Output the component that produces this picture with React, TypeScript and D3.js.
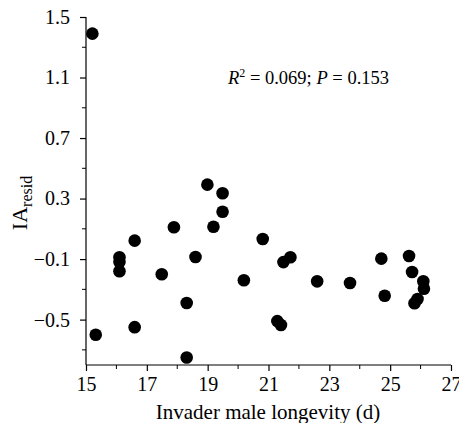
import { useRef, useEffect } from 'react';
import * as d3 from 'd3';

const WIDTH = 459;
const HEIGHT = 423;
const MARGIN = { top: 17, right: 8, bottom: 58, left: 86 };

// invader male longevity (d)
const longevity = [
  15.21, 15.32, 16.1, 16.1, 16.1, 16.6, 16.6, 17.49, 17.89, 18.6,
  18.31, 18.31, 18.99, 19.19, 19.49, 19.49, 20.81, 20.19, 21.49, 21.72,
  21.29, 21.41, 22.6, 23.68, 24.71, 24.82, 25.62, 25.72, 26.09, 26.11,
  25.9, 25.8,
];
// IA residuals
const iaResid = [
  1.39, -0.6, -0.088, -0.12, -0.18, 0.022, -0.55, -0.2, 0.11, -0.086,
  -0.39, -0.75, 0.392, 0.114, 0.335, 0.213, 0.033, -0.24, -0.12, -0.088,
  -0.51, -0.536, -0.247, -0.258, -0.097, -0.342, -0.08, -0.185, -0.247, -0.296,
  -0.364, -0.392,
];

const xTicks = [15, 17, 19, 21, 23, 25, 27];
const xMinor = [16, 18, 20, 22, 24, 26];
const yTicks = [-0.5, -0.1, 0.3, 0.7, 1.1, 1.5];
const yMinor = [-0.7, -0.3, 0.1, 0.5, 0.9, 1.3];

const FONT = '"Liberation Serif", "DejaVu Serif", serif';

const App = () => {
  const ref = useRef<SVGSVGElement>(null);

  useEffect(() => {
    const svg = d3.select(ref.current);
    svg.selectAll('*').remove();

    const x = d3.scaleLinear().domain([15, 27]).range([MARGIN.left, WIDTH - MARGIN.right]);
    const y = d3.scaleLinear().domain([-0.8, 1.5]).range([HEIGHT - MARGIN.bottom, MARGIN.top]);

    svg.append('rect').attr('width', WIDTH).attr('height', HEIGHT).attr('fill', '#fff');

    const x0 = y(-0.8);

    // x axis
    const gx = svg.append('g').attr('transform', `translate(0, ${x0})`);
    gx.call(d3.axisBottom(x).tickValues(xTicks).tickSize(6).tickPadding(6).tickFormat(d3.format('d')));
    gx.call(g => g.select('.domain').attr('d', `M${x(15)},0H${x(27)}`));
    gx.selectAll('.minor')
      .data(xMinor)
      .join('line')
      .attr('x1', d => x(d)).attr('x2', d => x(d))
      .attr('y1', 0).attr('y2', 4)
      .attr('stroke', '#000');

    // y axis
    const gy = svg.append('g').attr('transform', `translate(${MARGIN.left}, 0)`);
    gy.call(d3.axisLeft(y).tickValues(yTicks).tickSize(6).tickPadding(10).tickFormat(d => {
      const v = +d;
      return v < 0 ? '\u2212' + Math.abs(v).toFixed(1) : v.toFixed(1);
    }));
    gy.call(g => g.select('.domain').attr('d', `M0,${y(1.5)}V${y(-0.8)}`));
    gy.selectAll('.minor')
      .data(yMinor)
      .join('line')
      .attr('y1', d => y(d)).attr('y2', d => y(d))
      .attr('x1', 0).attr('x2', -4)
      .attr('stroke', '#000');

    svg.selectAll('.tick text')
      .attr('font-family', FONT)
      .attr('font-size', 20)
      .attr('fill', '#000');
    svg.selectAll('.domain, .tick line').attr('stroke', '#000').attr('stroke-width', 1.2);

    // points
    svg.append('g')
      .selectAll('circle')
      .data(longevity.map((d, i) => [d, iaResid[i]]))
      .join('circle')
      .attr('cx', d => x(d[0]))
      .attr('cy', d => y(d[1]))
      .attr('r', 6.3)
      .attr('fill', '#000');

    // annotation
    const ann = svg.append('text')
      .attr('x', 228)
      .attr('y', 84)
      .attr('font-family', FONT)
      .attr('font-size', 18.5)
      .attr('fill', '#000');
    ann.append('tspan').attr('font-style', 'italic').text('R');
    ann.append('tspan').attr('font-size', 12).attr('dy', -7).text('2');
    ann.append('tspan').attr('dy', 7).text(' = 0.069; ');
    ann.append('tspan').attr('font-style', 'italic').text('P');
    ann.append('tspan').text(' = 0.153');

    // x label
    svg.append('text')
      .attr('x', 268)
      .attr('y', 419)
      .attr('text-anchor', 'middle')
      .attr('font-family', FONT)
      .attr('font-size', 21)
      .attr('fill', '#000')
      .text('Invader male longevity (d)');

    // y label
    const yl = svg.append('text')
      .attr('transform', 'translate(27, 203) rotate(-90)')
      .attr('text-anchor', 'middle')
      .attr('font-family', FONT)
      .attr('font-size', 22)
      .attr('fill', '#000');
    yl.append('tspan').text('IA');
    yl.append('tspan').attr('font-size', 16).attr('dy', 5).text('resid');
  }, []);

  return <svg ref={ref} width={WIDTH} height={HEIGHT} style={{ position: 'absolute', left: 0, top: 0 }} />;
};

export default App;
